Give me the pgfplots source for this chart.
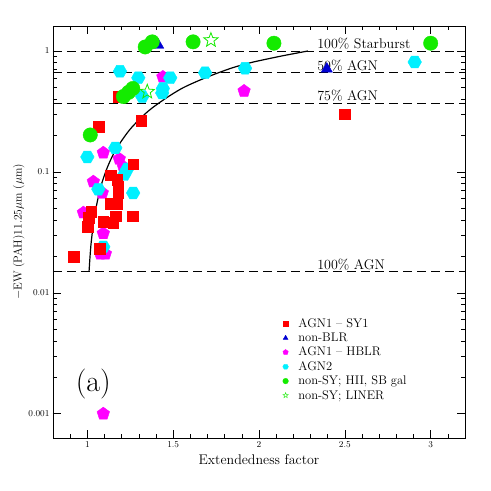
\documentclass[border=0pt]{standalone}
\usepackage{pgfplots}
\pgfplotsset{compat=1.18}
\usetikzlibrary{plotmarks}

\definecolor{sgreen}{RGB}{20,235,0}
\definecolor{sblue}{RGB}{0,0,210}
\definecolor{scyan}{RGB}{0,240,255}
\definecolor{smag}{RGB}{255,0,255}
\definecolor{sred}{RGB}{255,0,0}

% flat-topped hexagon, filled
\pgfdeclareplotmark{hexagon*}{%
  \pgfpathmoveto{\pgfpointpolar{0}{\pgfplotmarksize}}%
  \pgfpathlineto{\pgfpointpolar{60}{\pgfplotmarksize}}%
  \pgfpathlineto{\pgfpointpolar{120}{\pgfplotmarksize}}%
  \pgfpathlineto{\pgfpointpolar{180}{\pgfplotmarksize}}%
  \pgfpathlineto{\pgfpointpolar{240}{\pgfplotmarksize}}%
  \pgfpathlineto{\pgfpointpolar{300}{\pgfplotmarksize}}%
  \pgfpathclose
  \pgfusepathqfillstroke}
% open five point star
\pgfdeclareplotmark{ostar}{%
  \pgfpathmoveto{\pgfpointpolar{90}{\pgfplotmarksize}}%
  \pgfpathlineto{\pgfpointpolar{126}{0.42\pgfplotmarksize}}%
  \pgfpathlineto{\pgfpointpolar{162}{\pgfplotmarksize}}%
  \pgfpathlineto{\pgfpointpolar{198}{0.42\pgfplotmarksize}}%
  \pgfpathlineto{\pgfpointpolar{234}{\pgfplotmarksize}}%
  \pgfpathlineto{\pgfpointpolar{270}{0.42\pgfplotmarksize}}%
  \pgfpathlineto{\pgfpointpolar{306}{\pgfplotmarksize}}%
  \pgfpathlineto{\pgfpointpolar{342}{0.42\pgfplotmarksize}}%
  \pgfpathlineto{\pgfpointpolar{18}{\pgfplotmarksize}}%
  \pgfpathlineto{\pgfpointpolar{54}{0.42\pgfplotmarksize}}%
  \pgfpathclose
  \pgfusepathqstroke}

\pgfplotsset{
  lvl/.style={black, line width=0.9pt, dash pattern=on 9pt off 5pt},
}
\tikzset{
  lvltext/.style={anchor=south west, font=\fontsize{14}{15}\selectfont, inner sep=1.5pt},
}

\begin{document}
\begin{tikzpicture}
\path[use as bounding box] (-53pt,-53pt) rectangle (438pt,438pt);
\begin{axis}[
  scale only axis,
  width=412pt, height=412pt,
  ymode=log,
  xmin=0.8, xmax=3.2,
  ymin=6.3e-4, ymax=1.61,
  xtick={1,1.5,2,2.5,3},
  xticklabels={1,1.5,2,2.5,3},
  minor xtick={0.9,1.1,1.2,1.3,1.4,1.6,1.7,1.8,1.9,2.1,2.2,2.3,2.4,2.6,2.7,2.8,2.9,3.1},
  ytick={0.001,0.01,0.1,1},
  yticklabels={0.001,0.01,0.1,1},
  tick align=inside,
  major tick length=8pt, minor tick length=4pt,
  every tick/.style={black, line width=0.6pt},
  axis line style={line width=0.9pt},
  ticklabel style={font=\fontsize{9}{10}\selectfont},
  xlabel={Extendedness factor},
  ylabel={$-$EW (PAH)11.25$\mu$m ($\mu$m)},
  xlabel style={font=\fontsize{14}{15}\selectfont},
  ylabel style={font=\fontsize{11.5}{12}\selectfont},
  ylabel shift=-3pt,
  legend cell align=left,
  legend style={draw=none, fill=none, at={(0.55,0.30)}, anchor=north west,
    font=\fontsize{12.5}{13}\selectfont,
    /tikz/every odd column/.append style={column sep=8pt}},
  legend image code/.code={\draw[#1, mark size=2.8pt] plot coordinates {(0.3cm,0cm)};},
]
% reference levels
\addplot[lvl, forget plot] coordinates {(0.8,1.0) (3.2,1.0)};
\addplot[lvl, forget plot] coordinates {(0.8,0.66) (3.2,0.66)};
\addplot[lvl, forget plot] coordinates {(0.8,0.37) (3.2,0.37)};
\addplot[lvl, forget plot] coordinates {(0.8,0.015) (3.2,0.015)};
\node[lvltext] at (axis cs:2.33,1.0) {100\% Starburst};
\node[lvltext] at (axis cs:2.33,0.66) {50\% AGN};
\node[lvltext] at (axis cs:2.33,0.37) {75\% AGN};
\node[lvltext] at (axis cs:2.33,0.015) {100\% AGN};

% mixing curve
\addplot[black, line width=1.2pt, smooth, forget plot] coordinates {
  (1.01,0.015) (1.02,0.024) (1.035,0.037) (1.05,0.050) (1.08,0.077)
  (1.12,0.112) (1.17,0.156) (1.25,0.226) (1.35,0.314) (1.45,0.40)
  (1.55,0.49) (1.65,0.57) (1.75,0.65) (1.85,0.73) (1.95,0.80)
  (2.05,0.86) (2.15,0.92) (2.285,1.0)
};

% AGN1 - HBLR
\addplot[only marks, mark=pentagon*, mark size=6.6pt, smag, forget plot] coordinates {
  (1.913,0.467) (1.44,0.61) (1.093,0.144) (1.186,0.128) (1.21,0.11)
  (1.035,0.083) (0.977,0.046) (1.093,0.031) (1.076,0.021) (1.105,0.021)
  (1.087,0.067) (1.093,0.001)
};
% AGN2
\addplot[only marks, mark=hexagon*, mark size=6.8pt, scyan, forget plot] coordinates {
  (2.907,0.81) (1.919,0.72) (1.686,0.66) (1.483,0.60) (1.44,0.49)
  (1.436,0.45) (1.19,0.68) (1.297,0.60) (1.32,0.42) (1.0,0.133)
  (1.163,0.158) (1.233,0.106) (1.215,0.095) (1.064,0.072) (1.267,0.067)
  (1.093,0.024)
};
% AGN1 - SY1
\addplot[only marks, mark=square*, mark size=5.4pt, sred, forget plot] coordinates {
  (2.5,0.30) (1.18,0.42) (1.314,0.265) (1.064,0.235) (1.267,0.116)
  (1.134,0.094) (1.174,0.086) (1.18,0.075) (1.18,0.067) (1.134,0.055)
  (1.174,0.055) (1.023,0.047) (1.006,0.042) (1.0,0.035) (1.093,0.0386)
  (1.151,0.038) (1.163,0.043) (1.262,0.043) (1.07,0.023) (0.919,0.020)
};
% non-BLR
\addplot[only marks, mark=triangle*, mark size=6.5pt, sblue, forget plot] coordinates {
  (1.413,1.12) (2.395,0.71)
};
% non-SY; HII, SB gal
\addplot[only marks, mark=*, mark size=7.2pt, sgreen, forget plot] coordinates {
  (1.017,0.202) (1.21,0.42) (1.24,0.455) (1.265,0.49) (1.337,1.08)
  (1.378,1.19) (1.616,1.19) (2.087,1.16) (3.0,1.16)
};
% non-SY; LINER
\addplot[only marks, mark=ostar, mark size=7.5pt, sgreen, line width=0.8pt, forget plot] coordinates {
  (1.72,1.23) (1.349,0.46)
};

\addlegendimage{only marks, mark=square*, sred}
\addlegendentry{AGN1 -- SY1}
\addlegendimage{only marks, mark=triangle*, sblue}
\addlegendentry{non-BLR}
\addlegendimage{only marks, mark=pentagon*, smag}
\addlegendentry{AGN1 -- HBLR}
\addlegendimage{only marks, mark=hexagon*, scyan}
\addlegendentry{AGN2}
\addlegendimage{only marks, mark=*, sgreen}
\addlegendentry{non-SY; HII, SB gal}
\addlegendimage{only marks, mark=ostar, sgreen}
\addlegendentry{non-SY; LINER}

\node[font=\fontsize{30}{32}\selectfont] at (axis cs:1.035,0.00175) {(a)};
\end{axis}
\end{tikzpicture}
\end{document}
